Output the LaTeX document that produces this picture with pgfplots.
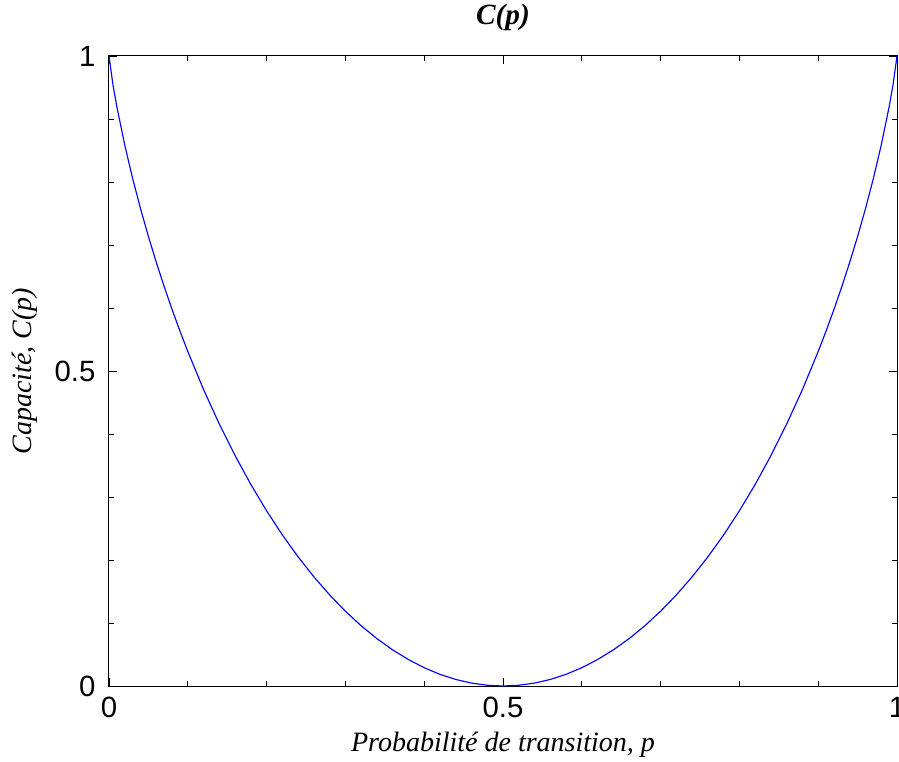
\documentclass[border=0pt]{standalone}
\usepackage{pgfplots}
\pgfplotsset{compat=1.18}
\usepackage{fontspec}
\setmainfont{Liberation Serif}
\newfontfamily\arial{Liberation Sans}
\begin{document}
\begin{tikzpicture}
\begin{axis}[
  name=ax,
  scale only axis,
  width=591pt, height=472.5pt,
  xmin=0, xmax=1, ymin=0, ymax=1,
  axis line style={black, line width=0.75pt},
  xtick={0,0.5,1}, xticklabels={0,0.5,1},
  ytick={0,0.5,1}, yticklabels={0,0.5,1},
  minor xtick={0.1,0.2,0.3,0.4,0.6,0.7,0.8,0.9},
  minor ytick={0.1,0.2,0.3,0.4,0.6,0.7,0.8,0.9},
  tick align=inside,
  major tick length=6pt, minor tick length=3.5pt,
  tick style={black, line width=0.6pt},
  xticklabel style={font=\arial\fontsize{22}{24}\selectfont, yshift=-5pt},
  yticklabel style={font=\arial\fontsize{22}{24}\selectfont, xshift=-6.7pt},
  xlabel={\itshape Probabilité de transition, p},
  ylabel={\itshape Capacité, C(p)},
  title={\bfseries\itshape C(p)},
  label style={font=\fontsize{21}{24}\selectfont},
  title style={font=\fontsize{22}{24}\selectfont, at={([yshift=23pt]axis description cs:0.5,1)}, anchor=center},
  xlabel style={at={([yshift=-44pt]axis description cs:0.5,0)}, anchor=center},
  ylabel style={at={([xshift=-63.4pt]axis description cs:0,0.5)}, anchor=center},
]
\addplot[blue, line width=0.85pt] coordinates {
(0,1) (0.005,0.9546) (0.01,0.9192) (0.02,0.8586) (0.03,0.8056) (0.04,0.7577)
(0.05,0.7136) (0.06,0.6726) (0.07,0.6341) (0.08,0.5978) (0.09,0.5635)
(0.10,0.5310) (0.12,0.4706) (0.14,0.4158) (0.16,0.3657) (0.18,0.3199)
(0.20,0.2781) (0.22,0.2398) (0.24,0.2050) (0.26,0.1733) (0.28,0.1446)
(0.30,0.1187) (0.32,0.0956) (0.34,0.0752) (0.36,0.0573) (0.38,0.0420)
(0.40,0.0290) (0.42,0.0185) (0.44,0.0104) (0.46,0.0046) (0.48,0.0012)
(0.50,0)
(0.52,0.0012) (0.54,0.0046) (0.56,0.0104) (0.58,0.0185) (0.60,0.0290)
(0.62,0.0420) (0.64,0.0573) (0.66,0.0752) (0.68,0.0956) (0.70,0.1187)
(0.72,0.1446) (0.74,0.1733) (0.76,0.2050) (0.78,0.2398) (0.80,0.2781)
(0.82,0.3199) (0.84,0.3657) (0.86,0.4158) (0.88,0.4706) (0.90,0.5310)
(0.91,0.5635) (0.92,0.5978) (0.93,0.6341) (0.94,0.6726) (0.95,0.7136)
(0.96,0.7577) (0.97,0.8056) (0.98,0.8586) (0.99,0.9192) (0.995,0.9546) (1,1)
};
\end{axis}
\pgfresetboundingbox
\path[use as bounding box] ([shift={(-81.75pt,-56.25pt)}]ax.south west) rectangle ([shift={(1.5pt,42pt)}]ax.north east);
\end{tikzpicture}
\end{document}
